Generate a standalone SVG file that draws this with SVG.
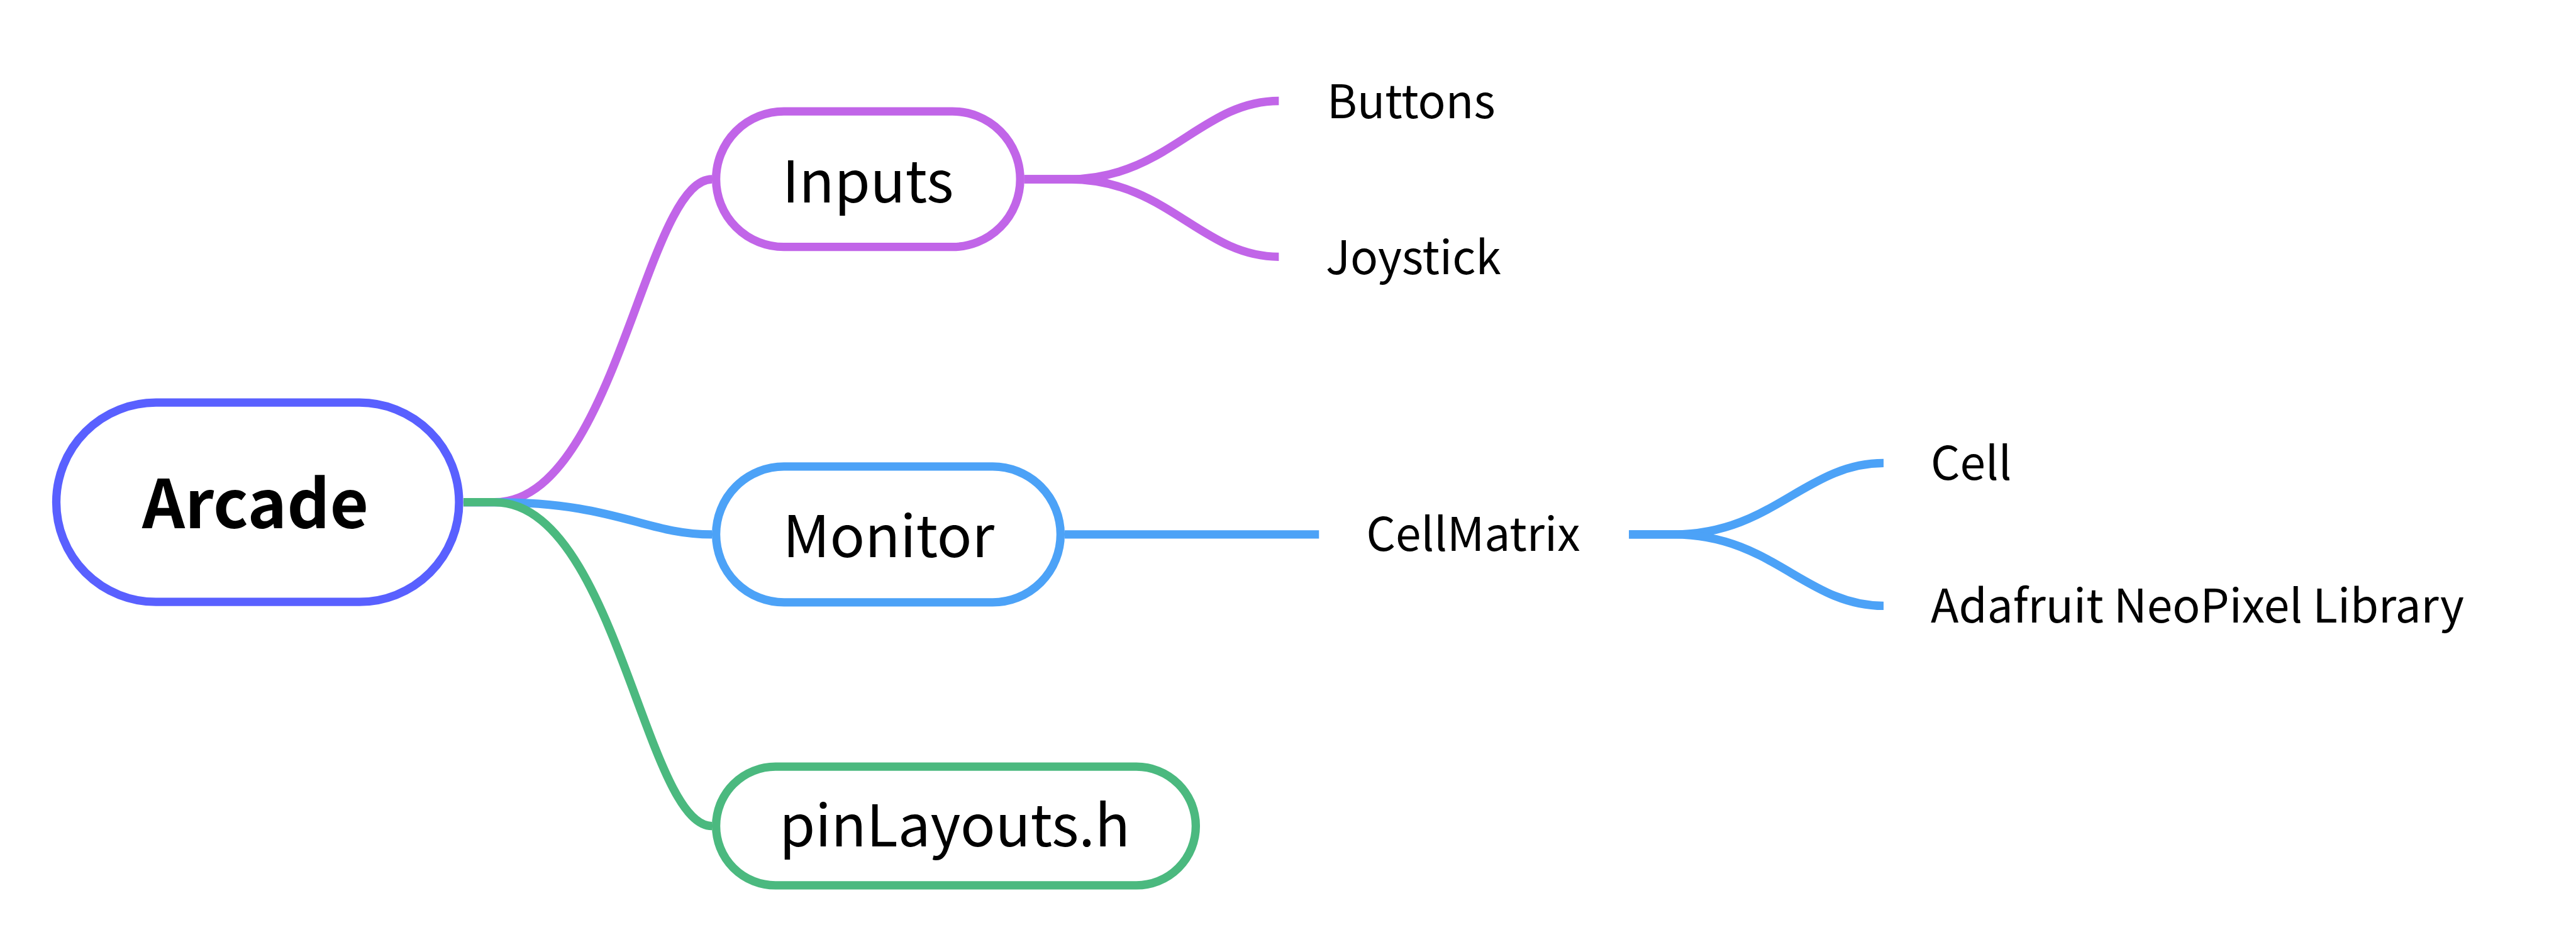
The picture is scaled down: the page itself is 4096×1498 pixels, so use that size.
<svg xmlns="http://www.w3.org/2000/svg" width="4096" height="1498" viewBox="0 0 4096 1498">
<style>
.node{fill:#ffffff;stroke-width:13.3}
.conn{fill:none;stroke-width:13.3}
.t{font-family:"Noto Sans CJK SC","Noto Sans",sans-serif;fill:#000000}
.main{font-size:92px;text-anchor:middle}
.sub{font-size:73px}
.root{font-size:106px;font-weight:700;text-anchor:middle}
.purple{stroke:#C165E8}
.blue{stroke:#4CA2F7}
.green{stroke:#4BB97F}
</style>
<rect width="4096" height="1498" fill="#ffffff"/>
<g id="connectors">
  <path class="conn purple" d="M737,798.7 L786.1,798.7 C978.8,798.7 1025.7,285 1132.2,285"/>
  <path class="conn blue" d="M737,798.7 L786.1,798.7 C978.8,798.7 1025.7,849.9 1132.2,849.9"/>
  <path class="conn green" d="M737,798.7 L786.1,798.7 C978.8,798.7 1025.7,1313.6 1132.2,1313.6"/>
  <path class="conn purple" d="M1628.6,285 L1699.9,285 C1856.5,285 1909.7,160.5 2033.4,160.5"/>
  <path class="conn purple" d="M1628.6,285 L1699.9,285 C1856.5,285 1909.7,408.3 2033.4,408.3"/>
  <path class="conn blue" d="M1692.9,849.9 L2097.3,849.9"/>
  <path class="conn blue" d="M2590.2,849.9 L2661.5,849.9 C2818.1,849.9 2871.3,736.4 2995,736.4"/>
  <path class="conn blue" d="M2590.2,849.9 L2661.5,849.9 C2818.1,849.9 2871.3,963.4 2995,963.4"/>
</g>
<g id="node-arcade">
  <rect class="node" x="89.5" y="640.2" width="640.5" height="317" rx="158.5" stroke="#5960FF"/>
  <text class="t root" x="406" y="840">Arcade</text>
</g>
<g id="node-inputs">
  <rect class="node purple" x="1138.6" y="177.1" width="483.6" height="215.6" rx="107.8"/>
  <text class="t main" x="1380" y="321.8">Inputs</text>
</g>
<g id="node-buttons">
  <text class="t sub" x="2110" y="187.7">Buttons</text>
</g>
<g id="node-joystick">
  <text class="t sub" x="2108" y="436">Joystick</text>
</g>
<g id="node-monitor">
  <rect class="node blue" x="1138.6" y="741.9" width="547.8" height="215.9" rx="108"/>
  <text class="t main" x="1413" y="885.8">Monitor</text>
</g>
<g id="node-cellmatrix">
  <text class="t sub" x="2172.5" y="876.4">CellMatrix</text>
</g>
<g id="node-cell">
  <text class="t sub" x="3070" y="763">Cell</text>
</g>
<g id="node-adafruit">
  <text class="t sub" x="3070" y="990">Adafruit NeoPixel Library</text>
</g>
<g id="node-pinlayouts">
  <rect class="node green" x="1138.6" y="1219.2" width="762.8" height="188.7" rx="94.4"/>
  <text class="t main" x="1518" y="1345.9">pinLayouts.h</text>
</g>
</svg>
